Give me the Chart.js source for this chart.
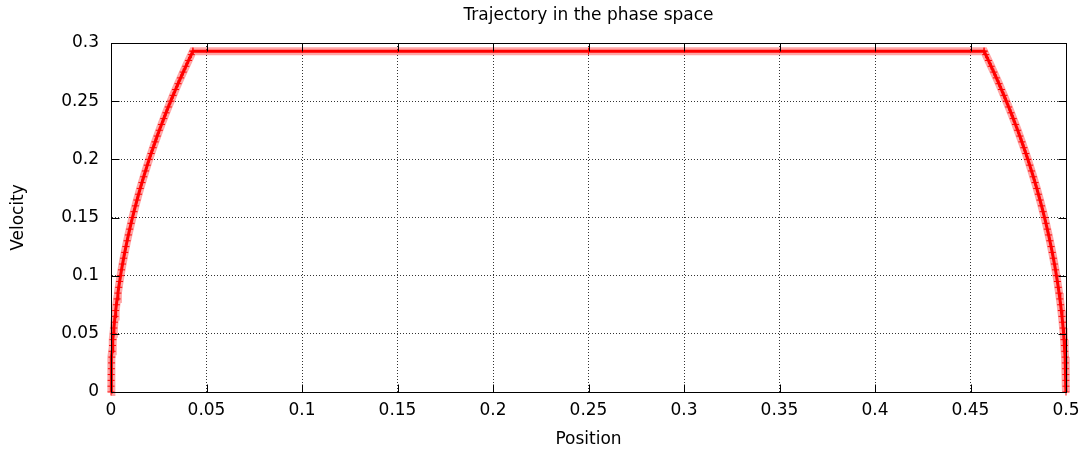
<!DOCTYPE html>
<html><head><meta charset="utf-8">
<script src="https://cdn.jsdelivr.net/npm/chart.js@4/dist/chart.umd.min.js"></script>
<style>html,body{margin:0;padding:0;background:#fff}#wrap{width:1090px;height:454px}</style>
</head><body><div id="wrap"><canvas id="c" width="1090" height="454"></canvas></div>
<script>
const chartTitle = "Trajectory in the phase space";
const xTitle = "Position";
const yTitle = "Velocity";
const xTicks = [0, 0.05, 0.1, 0.15, 0.2, 0.25, 0.3, 0.35, 0.4, 0.45, 0.5];
const yTicks = [0, 0.05, 0.1, 0.15, 0.2, 0.25, 0.3];

// acceleration phase
const accelPosition = [0,0.00001,0.00005,0.00011,0.0002,0.00031,0.00045,0.00061,0.0008,0.00101,0.00125,0.00151,0.0018,0.00211,0.00245,0.00281,0.0032,0.00361,0.00405,0.00451,0.005,0.00551,0.00605,0.00661,0.0072,0.00781,0.00845,0.00911,0.0098,0.01051,0.01125,0.01201,0.0128,0.01361,0.01445,0.01531,0.0162,0.01711,0.01805,0.01901,0.02,0.02101,0.02205,0.02311,0.0242,0.02531,0.02645,0.02761,0.0288,0.03001,0.03125,0.03251,0.0338,0.03511,0.03645,0.03781,0.0392,0.04061,0.04205,0.0429];
const accelVelocity = [0,0.005,0.01,0.015,0.02,0.025,0.03,0.035,0.04,0.045,0.05,0.055,0.06,0.065,0.07,0.075,0.08,0.085,0.09,0.095,0.1,0.105,0.11,0.115,0.12,0.125,0.13,0.135,0.14,0.145,0.15,0.155,0.16,0.165,0.17,0.175,0.18,0.185,0.19,0.195,0.2,0.205,0.21,0.215,0.22,0.225,0.23,0.235,0.24,0.245,0.25,0.255,0.26,0.265,0.27,0.275,0.28,0.285,0.29,0.293];
// cruise phase
const cruisePosition = [0.0429, 0.25, 0.4571];
const cruiseVelocity = [0.293, 0.293, 0.293];
// deceleration phase
const decelPosition = [0.4571,0.45795,0.45939,0.4608,0.46219,0.46355,0.46489,0.4662,0.46749,0.46875,0.46999,0.4712,0.47239,0.47355,0.47469,0.4758,0.47689,0.47795,0.47899,0.48,0.48099,0.48195,0.48289,0.4838,0.48469,0.48555,0.48639,0.4872,0.48799,0.48875,0.48949,0.4902,0.49089,0.49155,0.49219,0.4928,0.49339,0.49395,0.49449,0.495,0.49549,0.49595,0.49639,0.4968,0.49719,0.49755,0.49789,0.4982,0.49849,0.49875,0.49899,0.4992,0.49939,0.49955,0.49969,0.4998,0.49989,0.49995,0.49999,0.5];
const decelVelocity = [0.293,0.29,0.285,0.28,0.275,0.27,0.265,0.26,0.255,0.25,0.245,0.24,0.235,0.23,0.225,0.22,0.215,0.21,0.205,0.2,0.195,0.19,0.185,0.18,0.175,0.17,0.165,0.16,0.155,0.15,0.145,0.14,0.135,0.13,0.125,0.12,0.115,0.11,0.105,0.1,0.095,0.09,0.085,0.08,0.075,0.07,0.065,0.06,0.055,0.05,0.045,0.04,0.035,0.03,0.025,0.02,0.015,0.01,0.005,0];

function toPoints(xs, ys) { return xs.map((x, i) => ({x: x, y: ys[i]})); }
const trajectory = [].concat(
  toPoints(accelPosition, accelVelocity),
  toPoints(cruisePosition, cruiseVelocity),
  toPoints(decelPosition, decelVelocity)
);

const FONT = "'DejaVu Sans', 'Liberation Sans', Arial, sans-serif";
const FSIZE = 17;
Chart.defaults.font.family = FONT;
Chart.defaults.font.size = FSIZE;
Chart.defaults.color = '#000';

const fmt = v => String(+Number(v).toFixed(2));

const framePlugin = {
  id: 'frame',
  afterDraw(chart) {
    const ctx = chart.ctx, a = chart.chartArea;
    const xs = chart.scales.x, ys = chart.scales.y;
    const L = Math.round(a.left) + 0.5, R = Math.round(a.right) + 0.5;
    const T = Math.round(a.top) + 0.5, B = Math.round(a.bottom) + 0.5;
    ctx.save();
    ctx.strokeStyle = '#000';
    ctx.lineWidth = 1;
    ctx.setLineDash([]);
    ctx.beginPath();
    ctx.rect(L, T, R - L, B - T);
    const len = 8;
    xTicks.forEach(v => {
      const px = Math.round(xs.getPixelForValue(v)) + 0.5;
      ctx.moveTo(px, B); ctx.lineTo(px, B - len);
      ctx.moveTo(px, T); ctx.lineTo(px, T + len);
    });
    yTicks.forEach(v => {
      const py = Math.round(ys.getPixelForValue(v)) + 0.5;
      ctx.moveTo(L, py); ctx.lineTo(L + len, py);
      ctx.moveTo(R, py); ctx.lineTo(R - len, py);
    });
    ctx.stroke();
    // title centred over the plot area
    ctx.fillStyle = '#000';
    ctx.font = FSIZE + 'px ' + FONT;
    ctx.textAlign = 'center';
    ctx.textBaseline = 'alphabetic';
    ctx.fillText(chartTitle, (a.left + a.right) / 2, 20);
    ctx.restore();
  }
};

new Chart(document.getElementById('c'), {
  type: 'scatter',
  data: {
    datasets: [
      {
        label: 'trajectory',
        data: trajectory,
        showLine: true,
        borderColor: '#ff0000',
        borderWidth: 3,
        pointStyle: 'cross',
        pointRadius: 3.5,
        pointBorderColor: '#ff0000',
        pointBorderWidth: 1,
        pointBackgroundColor: '#ff0000',
        clip: false,
        order: 1
      },
      {
        label: 'halo',
        data: trajectory,
        showLine: true,
        borderColor: 'rgba(255,0,0,0.35)',
        borderWidth: 8,
        pointRadius: 0,
        clip: false,
        order: 2
      }
    ]
  },
  options: {
    responsive: false,
    animation: false,
    devicePixelRatio: 1,
    layout: { padding: { left: 0, right: 24, top: 43, bottom: 0 } },
    plugins: {
      legend: { display: false },
      tooltip: { enabled: false },
      title: { display: false }
    },
    scales: {
      x: {
        type: 'linear',
        min: 0, max: 0.5,
        afterBuildTicks: s => { s.ticks = xTicks.map(v => ({value: v})); },
        afterFit: s => { s.height = 62; },
        ticks: { callback: fmt, padding: 8, color: '#000', maxRotation: 0, autoSkip: false, font: { size: FSIZE } },
        grid: { color: '#333', drawTicks: false, tickLength: 0 },
        border: { display: true, color: '#000', width: 1, dash: [1, 2] },
        title: { display: true, text: xTitle, color: '#000', font: { size: FSIZE }, padding: { top: 0, bottom: 4 } }
      },
      y: {
        type: 'linear',
        min: 0, max: 0.3,
        afterBuildTicks: s => { s.ticks = yTicks.map(v => ({value: v})); },
        afterFit: s => { s.width = 111; },
        ticks: { callback: fmt, padding: 12, color: '#000', autoSkip: false, font: { size: FSIZE } },
        grid: { color: '#333', drawTicks: false, tickLength: 0 },
        border: { display: true, color: '#000', width: 1, dash: [1, 2] },
        title: { display: true, text: yTitle, color: '#000', font: { size: FSIZE }, padding: { top: 8, bottom: 0 } }
      }
    }
  },
  plugins: [framePlugin]
});
</script>
</body></html>
